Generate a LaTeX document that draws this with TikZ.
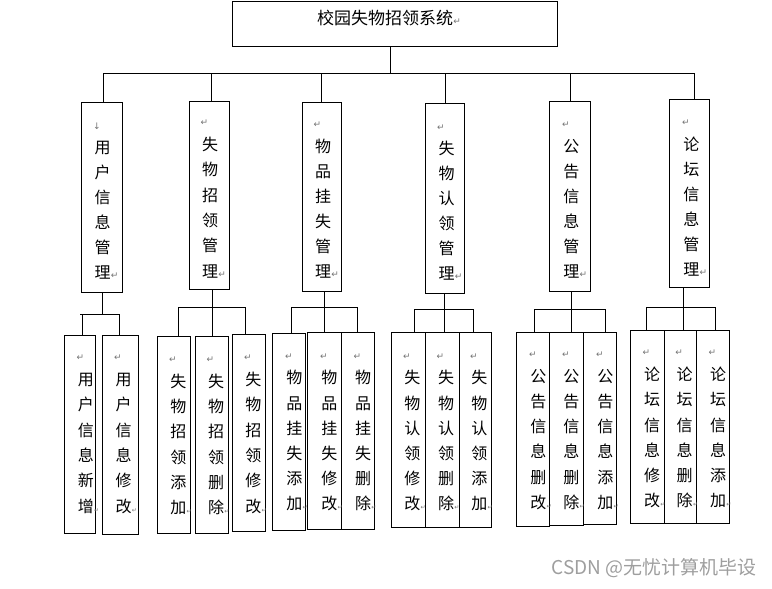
\documentclass[tikz,border=0pt]{standalone}
\usepackage{fontspec}
\newfontfamily\cjk{Noto Sans CJK SC}
\newfontfamily\symf{DejaVu Sans}
\tikzset{
 box/.style={draw=black, line width=1pt, anchor=north west, inner sep=0pt, outer sep=0pt},
 ln/.style={draw=black, line width=1pt},
 ch/.style={font=\cjk\fontsize{16}{16}\selectfont, inner sep=0pt, text height=13.6pt, text depth=2.4pt, anchor=center},
 pm/.style={font=\symf\fontsize{9}{9}\selectfont, text=black!55, inner sep=0pt, anchor=center},
 pe/.style={font=\symf\fontsize{7}{7}\selectfont, text=black!55, inner sep=0pt, anchor=base west},
 ttl/.style={font=\cjk\fontsize{17}{17}\selectfont, inner sep=0pt, text height=14.5pt, text depth=2.5pt, anchor=center},
 wm/.style={font=\cjk\fontsize{19}{19}\selectfont, text=black!38, inner sep=0pt, anchor=east},
}
% box: name, x1, y1, x2, y2
\newcommand\bx[5]{\node[box, minimum width={(#4)-(#2)}, minimum height={(#5)-(#3)}] (#1) at (#2,#3) {};}
% vertical column: name, cx, first y, pitch, mark, chars, end mark size
\newcommand\vcol[7]{%
  \node[pm] (#1-m) at ({#2-5.5},{#3-22}) {#5};
  \foreach \c [count=\i] in {#6} {\node[ch] (#1-\i) at (#2,{#3+(\i-1)*#4}) {\c};}
  \node[pe, font=\symf\fontsize{#7}{#7}\selectfont] (#1-e) at (#1-6.base east) {↵};
}
\begin{document}
\begin{tikzpicture}[x=1pt,y=-1pt]
\useasboundingbox (0,0) rectangle (772,589);

% top
\bx{top}{232.3}{1.7}{557.7}{46}
\node[ttl] (title) at (385,18.3) {校园失物招领系统};
\node[pe, font=\symf\fontsize{9}{9}\selectfont] (title-e) at (title.base east) {↵};

% level 2 boxes
\bx{m1}{81.3}{102.3}{122.3}{292.3}
\bx{m2}{189.3}{101.3}{229.3}{289.3}
\bx{m3}{302.3}{102.3}{341.3}{291.3}
\bx{m4}{425.3}{103.3}{464.3}{293.3}
\bx{m5}{549.3}{101.3}{590.3}{291.3}
\bx{m6}{669.3}{99.3}{709.3}{287.3}
\vcol{t1}{102.5}{148.3}{25}{↓}{用,户,信,息,管,理}{9}
\vcol{t2}{210}{145}{25.3}{↵}{失,物,招,领,管,理}{9}
\vcol{t3}{323}{146.7}{25}{↵}{物,品,挂,失,管,理}{9}
\vcol{t4}{446.5}{149.3}{25}{↵}{失,物,认,领,管,理}{9}
\vcol{t5}{571.3}{146.7}{25}{↵}{公,告,信,息,管,理}{9}
\vcol{t6}{691.3}{145}{25}{↵}{论,坛,信,息,管,理}{9}

% level 3 boxes
\bx{b1a}{64.3}{335}{95.7}{533.3}
\bx{b1b}{102.3}{335.7}{138.7}{534.3}
\bx{b2a}{157.3}{336.3}{190.3}{533.3}
\bx{b2b}{195.3}{336.3}{228.3}{533.3}
\bx{b2c}{232.3}{334}{265.3}{531}
\bx{b3a}{272.3}{333.3}{305.7}{530}
\bx{b3b}{307.7}{332.3}{341.7}{529.3}
\bx{b3c}{341.7}{332.3}{374.7}{529.3}
\bx{b4a}{391.7}{332.3}{425.7}{527.3}
\bx{b4b}{425.7}{332.3}{459}{527.3}
\bx{b4c}{459}{332.3}{491.7}{527.3}
\bx{b5a}{516.7}{332.3}{549.7}{526.3}
\bx{b5b}{549.7}{332.3}{583.3}{525.3}
\bx{b5c}{583.3}{332.3}{616.3}{524.3}
\bx{b6a}{630.3}{330.3}{664.3}{523.3}
\bx{b6b}{664.3}{330.3}{696.3}{523.3}
\bx{b6c}{696.3}{330.3}{729.3}{523.3}

\vcol{s1a}{85.8}{380}{25.3}{↵}{用,户,信,息,新,增}{6}
\vcol{s1b}{123.5}{380}{25.3}{↵}{用,户,信,息,修,改}{6}
\vcol{s2a}{178.3}{381.7}{25.3}{↵}{失,物,招,领,添,加}{6}
\vcol{s2b}{216}{381.7}{25.3}{↵}{失,物,招,领,删,除}{6}
\vcol{s2c}{253.3}{380}{25.3}{↵}{失,物,招,领,修,改}{6}
\vcol{s3a}{294.3}{378.3}{25.2}{↵}{物,品,挂,失,添,加}{6}
\vcol{s3b}{329.3}{378.3}{25.2}{↵}{物,品,挂,失,修,改}{6}
\vcol{s3c}{363}{378.3}{25.2}{↵}{物,品,挂,失,删,除}{6}
\vcol{s4a}{412.3}{378.3}{25.2}{↵}{失,物,认,领,修,改}{6}
\vcol{s4b}{446}{378.3}{25.2}{↵}{失,物,认,领,删,除}{6}
\vcol{s4c}{479.3}{378.3}{25.2}{↵}{失,物,认,领,添,加}{6}
\vcol{s5a}{538.3}{376.7}{25.2}{↵}{公,告,信,息,删,改}{6}
\vcol{s5b}{571.3}{376.7}{25.2}{↵}{公,告,信,息,删,除}{6}
\vcol{s5c}{605.3}{376.7}{25.2}{↵}{公,告,信,息,添,加}{6}
\vcol{s6a}{652}{375}{25.2}{↵}{论,坛,信,息,修,改}{6}
\vcol{s6b}{684.7}{375}{25.2}{↵}{论,坛,信,息,删,除}{6}
\vcol{s6c}{718}{375}{25.2}{↵}{论,坛,信,息,添,加}{6}

% top bus
\coordinate (bus) at (390,73.3);
\coordinate (d1) at (103.3,73.3);
\coordinate (d2) at (211.7,73.3);
\coordinate (d3) at (321.3,73.3);
\coordinate (d4) at (445.7,73.3);
\coordinate (d5) at (570,73.3);
\coordinate (d6) at (694.7,73.3);
\draw[ln] (top.south -| bus) -- (bus);
\draw[ln] (d1) -- (d6);
\foreach \k in {1,...,6} {\draw[ln] (d\k) -- (d\k |- m\k.north);}

% group 1
\coordinate (g1) at (102.3,314);
\coordinate (g1l) at (80.3,314);
\coordinate (g1a) at (82.3,314);
\coordinate (g1b) at (119.7,314);
\draw[ln] (m1.south -| g1) -- (g1);
\draw[ln] (g1l) -- (g1b);
\draw[ln] (g1a) -- (g1a |- b1a.north);
\draw[ln] (g1b) -- (g1b |- b1b.north);

% groups 2-6
\coordinate (g2) at (212.3,307); \coordinate (g2a) at (178.3,307); \coordinate (g2c) at (245,307);
\coordinate (g3) at (324.3,307.3); \coordinate (g3a) at (291.7,307.3); \coordinate (g3c) at (357.3,307.3);
\coordinate (g4) at (444.3,309.3); \coordinate (g4a) at (414.3,309.3); \coordinate (g4c) at (473.3,309.3);
\coordinate (g5) at (571.3,309.3); \coordinate (g5a) at (534.3,309.3); \coordinate (g5c) at (605.3,309.3);
\coordinate (g6) at (683.3,307.3); \coordinate (g6a) at (646.3,307.3); \coordinate (g6c) at (715.3,307.3);
\foreach \k in {2,...,6} {
  \draw[ln] (m\k.south -| g\k) -- (g\k);
  \draw[ln] (g\k a) -- (g\k c);
  \draw[ln] (g\k a) -- (g\k a |- b\k a.north);
  \draw[ln] (g\k) -- (g\k |- b\k b.north);
  \draw[ln] (g\k c) -- (g\k c |- b\k c.north);
}

% watermark
\node[wm] (wm) at (757,568.3) {CSDN @无忧计算机毕设};
\end{tikzpicture}
\end{document}
